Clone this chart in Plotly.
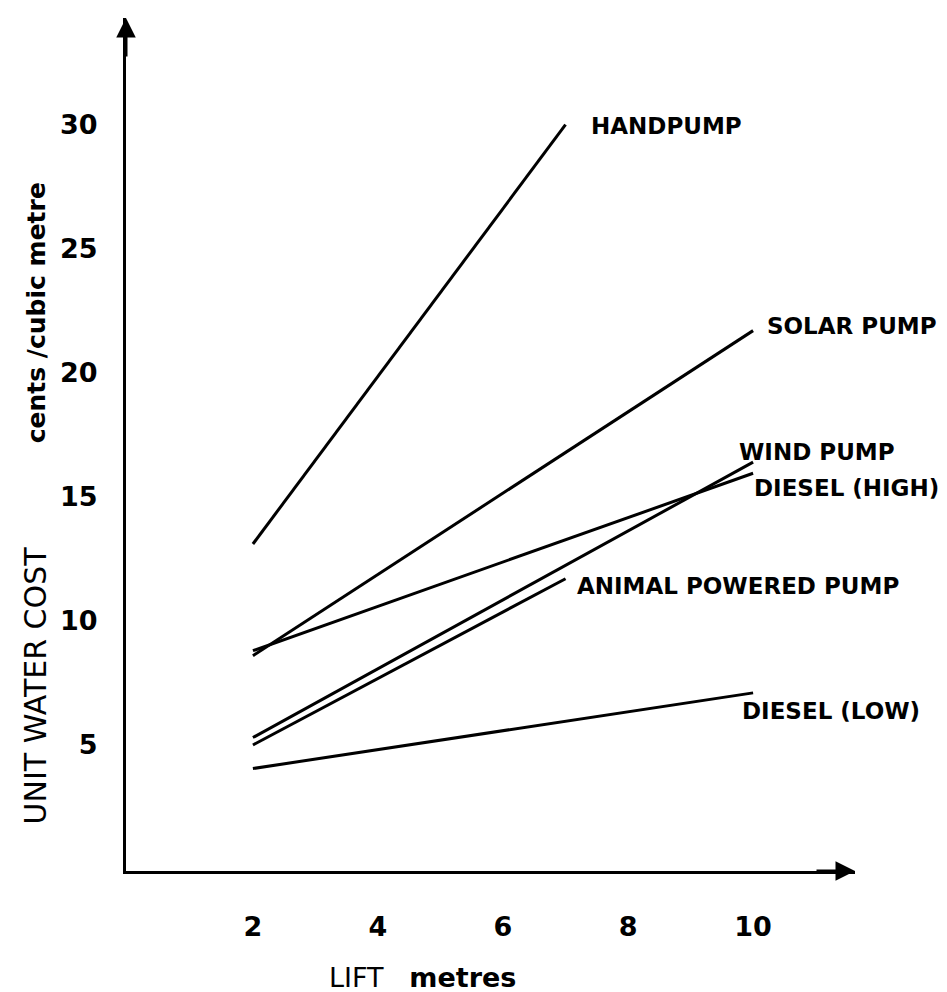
import plotly.graph_objects as go

# ---- data ----
series_names = ["HANDPUMP", "SOLAR PUMP", "WIND PUMP", "DIESEL (HIGH)",
                "ANIMAL POWERED PUMP", "DIESEL (LOW)"]
handpump_lift = [2, 7]
handpump_cost = [13.1, 30.0]
solar_lift = [2, 10]
solar_cost = [8.6, 21.7]
wind_lift = [2, 10]
wind_cost = [5.3, 16.4]
diesel_high_lift = [2, 10]
diesel_high_cost = [8.8, 15.95]
animal_lift = [2, 7]
animal_cost = [5.0, 11.7]
diesel_low_lift = [2, 10]
diesel_low_cost = [4.05, 7.1]

x_ticks = [2, 4, 6, 8, 10]
y_ticks = [5, 10, 15, 20, 25, 30]

series_lift = [handpump_lift, solar_lift, wind_lift, diesel_high_lift, animal_lift, diesel_low_lift]
series_cost = [handpump_cost, solar_cost, wind_cost, diesel_high_cost, animal_cost, diesel_low_cost]

# ---- style ----
label_shift = [(23, -1), (12, 5), (-16, 10), (-1, -15), (9, -7), (-13, -18)]
FONT = "DejaVu Sans"
INK = "#000000"

fig = go.Figure()
for name, xs, ys in zip(series_names, series_lift, series_cost):
    fig.add_trace(go.Scatter(x=xs, y=ys, mode="lines", name=name,
                             line=dict(color=INK, width=3), showlegend=False))

annotations = []
for name, xs, ys, (dx, dy) in zip(series_names, series_lift, series_cost, label_shift):
    annotations.append(dict(x=xs[-1], y=ys[-1], xref="x", yref="y", text="<b>%s</b>" % name,
                            showarrow=False, xanchor="left", yanchor="middle",
                            xshift=dx, yshift=dy,
                            font=dict(family=FONT, size=23, color=INK)))

# axis titles
annotations.append(dict(x=0, y=7.4, xref="paper", yref="y", text="UNIT WATER COST",
                        textangle=-90, showarrow=False, xanchor="center", yanchor="middle",
                        xshift=-91, font=dict(family=FONT, size=30, color=INK)))
annotations.append(dict(x=0, y=22.4, xref="paper", yref="y", text="<b>cents /cubic metre</b>",
                        textangle=-90, showarrow=False, xanchor="center", yanchor="middle",
                        xshift=-90, font=dict(family=FONT, size=25, color=INK)))
annotations.append(dict(x=4.72, y=0, xref="x", yref="paper", text="LIFT&nbsp;&nbsp;&nbsp;<b>metres</b>",
                        showarrow=False, xanchor="center", yanchor="middle",
                        yshift=-106, font=dict(family=FONT, size=27, color=INK)))

# arrow heads on axes
annotations.append(dict(x=0, y=1, xref="paper", yref="paper", ax=0, ay=40, text="",
                        showarrow=True, arrowhead=2, arrowsize=1.3, arrowwidth=3, arrowcolor=INK))
annotations.append(dict(x=1, y=0, xref="paper", yref="paper", ax=-40, ay=0, text="",
                        showarrow=True, arrowhead=2, arrowsize=1.3, arrowwidth=3, arrowcolor=INK))

fig.update_layout(
    width=947, height=992,
    margin=dict(l=118, r=100, t=10, b=129),
    paper_bgcolor="white", plot_bgcolor="white",
    annotations=annotations,
    xaxis=dict(range=[-0.03, 11.63], tickvals=x_ticks, ticktext=["<b>%d</b>" % v for v in x_ticks],
               showgrid=False, zeroline=False, showline=True, linecolor=INK, linewidth=3,
               ticks="outside", ticklen=30, tickcolor="rgba(0,0,0,0)",
               tickfont=dict(family=FONT, size=27, color=INK)),
    yaxis=dict(range=[-0.08, 34.3], tickvals=y_ticks, ticktext=["<b>%d</b>" % v for v in y_ticks],
               showgrid=False, zeroline=False, showline=True, linecolor=INK, linewidth=3,
               ticks="outside", ticklen=20, tickcolor="rgba(0,0,0,0)",
               tickfont=dict(family=FONT, size=27, color=INK)),
)

fig.write_html("out.html")
